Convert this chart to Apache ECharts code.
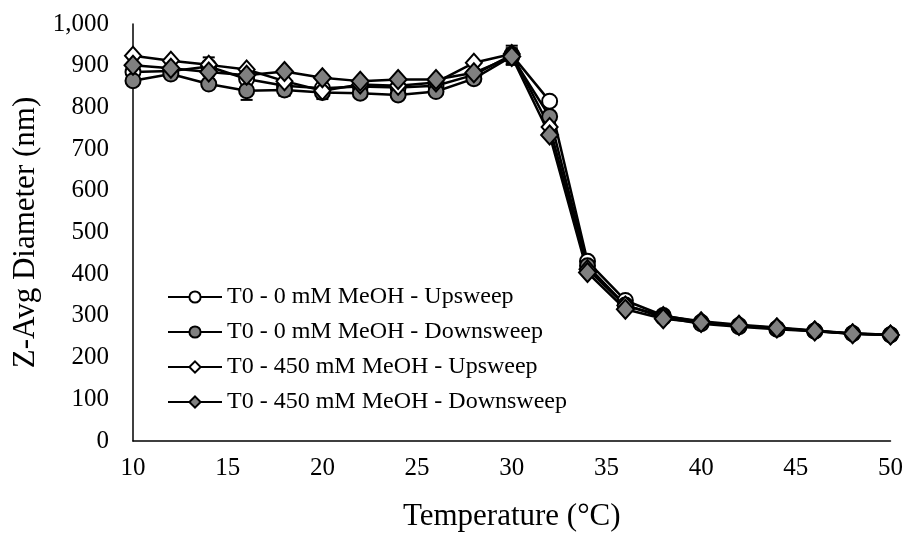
<!DOCTYPE html>
<html lang="en">
<head>
<meta charset="UTF-8">
<title>Z-Avg Diameter</title>
<script src="https://cdn.jsdelivr.net/npm/echarts@6/dist/echarts.min.js"></script>
<style>
  html, body { margin: 0; padding: 0; background: #fff; }
  #chart { width: 906px; height: 537px; }
</style>
</head>
<body>
<div id="chart"></div>
<script>
// temperatures (°C)
var temps = [10, 12, 14, 16, 18, 20, 22, 24, 26, 28, 30, 32, 34, 36, 38, 40, 42, 44, 46, 48, 50];

// Z-avg diameter (nm)
var up0 = [885, 887, 898, 868, 852, 846, 850, 848, 852, 878, 926, 815, 431, 337, 301, 285, 277, 270, 264, 258, 255];
var down0 = [864, 880, 856, 840, 842, 836, 834, 830, 838, 869, 922, 778, 420, 326, 296, 281, 274, 268, 263, 257, 254];
var up450 = [924, 912, 902, 891, 863, 840, 855, 852, 860, 907, 928, 753, 412, 325, 300, 287, 279, 272, 265, 258, 255];
var down450 = [901, 894, 885, 877, 886, 871, 863, 867, 867, 883, 922, 734, 404, 316, 293, 284, 277, 271, 264, 257, 254];

// error bars (nm)
var errUp0 = [12, 8, 22, 10, 8, 8, 6, 6, 6, 8, 22, 8, 8, 6, 4, 4, 3, 3, 3, 3, 3];
var errDown0 = [10, 6, 8, 22, 14, 16, 6, 10, 6, 6, 20, 8, 6, 5, 4, 4, 3, 3, 3, 3, 3];

var names = [
  'T0 - 0 mM MeOH - Upsweep',
  'T0 - 0 mM MeOH - Downsweep',
  'T0 - 450 mM MeOH - Upsweep',
  'T0 - 450 mM MeOH - Downsweep'
];

function pairs(vals) {
  return temps.map(function (t, i) { return [t, vals[i]]; });
}

function errData(vals, errs) {
  return temps.map(function (t, i) { return [t, vals[i] - errs[i], vals[i] + errs[i]]; });
}

function errSeries(vals, errs) {
  return {
    type: 'custom',
    silent: true,
    z: 1,
    data: errData(vals, errs),
    renderItem: function (params, api) {
      var lo = api.coord([api.value(0), api.value(1)]);
      var hi = api.coord([api.value(0), api.value(2)]);
      var w = 6;
      var st = { stroke: '#000', lineWidth: 2 };
      return {
        type: 'group',
        children: [
          { type: 'line', shape: { x1: lo[0], y1: lo[1], x2: hi[0], y2: hi[1] }, style: st },
          { type: 'line', shape: { x1: lo[0] - w, y1: lo[1], x2: lo[0] + w, y2: lo[1] }, style: st },
          { type: 'line', shape: { x1: hi[0] - w, y1: hi[1], x2: hi[0] + w, y2: hi[1] }, style: st }
        ]
      };
    }
  };
}

function lineSeries(name, vals, symbol, size, fill) {
  return {
    name: name,
    type: 'line',
    z: 3,
    data: pairs(vals),
    symbol: symbol,
    symbolSize: size,
    showAllSymbol: true,
    lineStyle: { color: '#000', width: 2.5 },
    itemStyle: { color: fill, borderColor: '#000', borderWidth: 2 },
    emphasis: { disabled: true }
  };
}

var chart = echarts.init(document.getElementById('chart'));

var option = {
  animation: false,
  backgroundColor: '#fff',
  textStyle: { fontFamily: 'Liberation Serif' },
  grid: { left: 133, right: 13, top: 24, bottom: 91, containLabel: false },
  legend: {
    orient: 'vertical',
    left: 162,
    top: 280,
    itemWidth: 54,
    itemHeight: 14,
    itemGap: 11,
    data: names,
    textStyle: { fontFamily: 'Liberation Serif', fontSize: 24, color: '#000' }
  },
  xAxis: {
    type: 'value',
    min: 10,
    max: 50,
    interval: 5,
    name: 'Temperature (°C)',
    nameLocation: 'middle',
    nameGap: 60,
    nameTextStyle: { fontFamily: 'Liberation Serif', fontSize: 31, color: '#000' },
    axisLine: { lineStyle: { color: '#000', width: 1.5 } },
    axisTick: { show: false },
    splitLine: { show: false },
    axisLabel: { fontFamily: 'Liberation Serif', fontSize: 25, color: '#000', margin: 15 }
  },
  yAxis: {
    type: 'value',
    min: 0,
    max: 1000,
    interval: 100,
    name: 'Z-Avg Diameter (nm)',
    nameLocation: 'middle',
    nameGap: 82,
    nameTextStyle: { fontFamily: 'Liberation Serif', fontSize: 31, color: '#000' },
    axisLine: { show: true, lineStyle: { color: '#000', width: 1.5 } },
    axisTick: { show: false },
    splitLine: { show: false },
    axisLabel: {
      fontFamily: 'Liberation Serif', fontSize: 25, color: '#000', margin: 24,
      formatter: function (v) { return v.toLocaleString('en-US'); }
    }
  },
  series: [
    errSeries(up0, errUp0),
    errSeries(down0, errDown0),
    lineSeries(names[0], up0, 'circle', 15, '#fff'),
    lineSeries(names[1], down0, 'circle', 15, '#808080'),
    lineSeries(names[2], up450, 'diamond', [16, 18], '#fff'),
    lineSeries(names[3], down450, 'diamond', [17, 19], '#808080')
  ]
};

chart.setOption(option);
</script>
</body>
</html>
